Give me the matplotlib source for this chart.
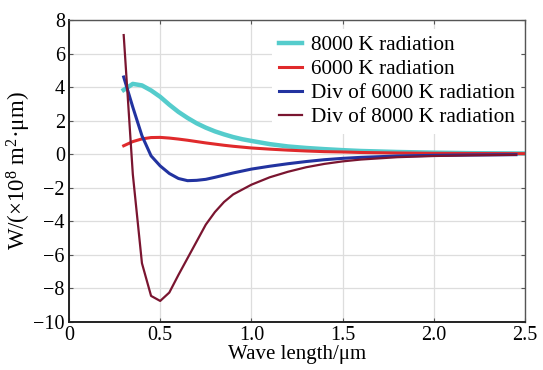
import matplotlib
matplotlib.use('Agg')
import matplotlib.pyplot as plt

plt.rcParams['font.family'] = ['Liberation Serif', 'DejaVu Serif']
plt.rcParams['mathtext.default'] = 'regular'
plt.rcParams['axes.unicode_minus'] = True

# 8000 K radiation
wl_8000 = [0.30, 0.35, 0.40, 0.45, 0.50, 0.55, 0.60, 0.65, 0.70, 0.75, 0.80, 0.85, 0.90, 0.95,
           1.0, 1.1, 1.2, 1.3, 1.4, 1.5, 1.6, 1.8, 2.0, 2.2, 2.5]
rad_8000 = [3.83, 4.19, 4.10, 3.80, 3.42, 2.95, 2.52, 2.16, 1.84, 1.58, 1.36, 1.18, 1.02, 0.89,
            0.79, 0.60, 0.46, 0.37, 0.30, 0.24, 0.19, 0.13, 0.09, 0.06, 0.04]

# 6000 K radiation
wl_6000 = [0.30, 0.35, 0.40, 0.45, 0.50, 0.55, 0.60, 0.65, 0.70, 0.75, 0.80, 0.85, 0.90, 0.95,
           1.0, 1.1, 1.2, 1.3, 1.4, 1.5, 1.6, 1.8, 2.0, 2.2, 2.5]
rad_6000 = [0.50, 0.75, 0.91, 0.99, 1.00, 0.96, 0.90, 0.83, 0.75, 0.67, 0.60, 0.53, 0.47, 0.42,
            0.37, 0.30, 0.24, 0.19, 0.15, 0.13, 0.10, 0.07, 0.05, 0.04, 0.03]

# Div of 6000 K radiation
wl_div6000 = [0.30, 0.35, 0.40, 0.45, 0.50, 0.55, 0.60, 0.65, 0.70, 0.75, 0.80, 0.85, 0.90,
              1.0, 1.1, 1.2, 1.3, 1.4, 1.5, 1.6, 1.8, 2.0, 2.2, 2.45]
div_6000 = [4.60, 2.80, 1.10, -0.10, -0.70, -1.15, -1.45, -1.58, -1.56, -1.50, -1.38, -1.25, -1.12,
            -0.89, -0.72, -0.57, -0.44, -0.33, -0.25, -0.19, -0.11, -0.07, -0.05, -0.03]

# Div of 8000 K radiation
wl_div8000 = [0.30, 0.35, 0.40, 0.45, 0.50, 0.55, 0.60, 0.65, 0.70, 0.75, 0.80, 0.85, 0.90,
              1.0, 1.1, 1.2, 1.3, 1.4, 1.5, 1.6, 1.8, 2.0, 2.2, 2.45]
div_8000 = [7.10, -1.20, -6.50, -8.45, -8.75, -8.25, -7.20, -6.20, -5.20, -4.20, -3.45, -2.85, -2.40,
            -1.82, -1.38, -1.05, -0.78, -0.58, -0.43, -0.32, -0.18, -0.11, -0.07, -0.04]

x_ticks = [0, 0.5, 1.0, 1.5, 2.0, 2.5]
x_tick_labels = ['0', '0.5', '1.0', '1.5', '2.0', '2.5']
y_ticks = [-10, -8, -6, -4, -2, 0, 2, 4, 6, 8]

fig = plt.figure(figsize=(5.43, 3.70), dpi=100)
ax = fig.add_axes([0.127, 0.130, 0.840, 0.816])

ax.plot(wl_8000, rad_8000, color='#55cccc', lw=3.2, label='8000 K radiation')
ax.plot(wl_6000, rad_6000, color='#e02a2c', lw=2.2, label='6000 K radiation')
ax.plot(wl_div6000, div_6000, color='#2233a0', lw=2.2, label='Div of 6000 K radiation')
ax.plot(wl_div8000, div_8000, color='#7a1530', lw=1.6, label='Div of 8000 K radiation')

ax.set_xlim(0, 2.5)
ax.set_ylim(-10, 8)
ax.set_xticks(x_ticks)
ax.set_xticklabels(x_tick_labels)
ax.set_yticks(y_ticks)
ax.grid(True, color='#dddddd', lw=0.9)
ax.set_axisbelow(True)
ax.tick_params(direction='in', top=True, right=True, length=3, color='#555555',
               labelsize=14.5, pad=3)

for side in ['left', 'bottom']:
    ax.spines[side].set_linewidth(1.4)
    ax.spines[side].set_color('#222222')
for side in ['top', 'right']:
    ax.spines[side].set_linewidth(1.0)
    ax.spines[side].set_color('#555555')

ax.set_xlabel('Wave length/μm', fontsize=15, labelpad=0)
ax.set_ylabel('W/(×10$^{8}$ m$^{2}$·μm)', fontsize=16.5, labelpad=0)

leg = ax.legend(loc='upper right', bbox_to_anchor=(1.0, 0.985), fontsize=15.3,
                frameon=True, framealpha=1, edgecolor='none', handlelength=1.1,
                handletextpad=0.4, labelspacing=0.2, borderaxespad=0.2,
                borderpad=0.3)

fig.savefig('out.png', dpi=100)
